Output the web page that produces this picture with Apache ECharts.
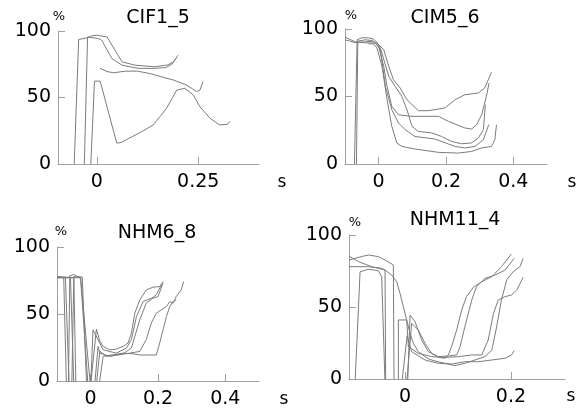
<!DOCTYPE html>
<html>
<head>
<meta charset="utf-8">
<script src="https://cdn.jsdelivr.net/npm/echarts@6/dist/echarts.min.js"></script>
<style>html,body{margin:0;padding:0;background:#fff}#c{width:584px;height:411px}</style>
</head>
<body>
<div id="c"></div>
<script>
// ---- Panel titles and tick labels ----
var panelTitles = ['CIF1_5', 'CIM5_6', 'NHM6_8', 'NHM11_4'];
var yTicks = [0, 50, 100];
var xTicksP1 = [0, 0.25];
var xTicksP2 = [0, 0.2, 0.4];
var xTicksP3 = [0, 0.2, 0.4];
var xTicksP4 = [0, 0.2];

// ---- Panel 1: CIF1_5  [time s, %] ----
var cif1 = [[-0.056,0],[-0.045,93.6],[-0.023,95],[-0.014,96.3],[0,96.8],[0.025,95.5],[0.062,76.8],[0.094,74.3],[0.143,73.1],[0.175,74.5],[0.19,77],[0.2,81.8]];
var cif2 = [[-0.031,0],[-0.023,95.5],[0.004,94.3],[0.012,93],[0.037,79.3],[0.062,74.3],[0.102,71.9],[0.143,71.9],[0.17,72.5],[0.185,75],[0.195,79.3]];
var cif3 = [[0.008,71.9],[0.025,69.5],[0.041,68.6],[0.07,69.8],[0.1,69.8],[0.131,68],[0.16,65.5],[0.189,63.1],[0.221,59.4],[0.246,54.5],[0.254,55.5],[0.262,61.8]];
var cif4 = [[-0.015,0],[-0.006,62.3],[0.008,62.3],[0.049,15.7],[0.06,16.2],[0.074,18.5],[0.107,23.7],[0.139,29.4],[0.172,41.9],[0.197,55.6],[0.217,56.9],[0.238,51.9],[0.254,43.1],[0.279,34.4],[0.303,29.4],[0.322,29.8],[0.328,32]];

// ---- Panel 2: CIM5_6 ----
var cim1 = [[-0.1,94],[-0.07,90.5],[-0.04,89.8],[-0.02,89.6],[-0.005,89.6],[0.015,84.7],[0.03,72.3],[0.044,62.4],[0.064,56.3],[0.084,47.6],[0.118,39.5],[0.148,39.5],[0.197,41.5],[0.227,47.6],[0.256,51.3],[0.296,52.6],[0.315,56.3],[0.335,67.9]];
var cim2 = [[-0.1,92],[-0.07,90],[-0.04,90.5],[-0.015,91],[0,87.1],[0.015,72.3],[0.025,57.5],[0.039,42.7],[0.059,36.5],[0.099,35.3],[0.178,35.3],[0.207,31.6],[0.256,26.7],[0.276,25.9],[0.291,29.1],[0.306,36.5],[0.32,50.1],[0.328,60]];
var cim3 = [[-0.072,0],[-0.064,92],[-0.05,93.5],[-0.03,93.5],[-0.015,92.5],[-0.005,90],[0.005,85.9],[0.03,64.9],[0.049,57.5],[0.069,50.1],[0.084,40.2],[0.099,27.9],[0.118,24.1],[0.158,23],[0.187,20.4],[0.217,16.7],[0.246,15],[0.276,15.6],[0.296,19.3],[0.311,25.4],[0.315,37.8],[0.317,43.9]];
var cim4 = [[-0.066,0],[-0.062,91],[-0.04,92],[-0.02,91.5],[-0.008,89],[0.005,84.7],[0.02,57.5],[0.039,40.2],[0.059,30.4],[0.079,25.4],[0.108,20.4],[0.167,18.5],[0.227,13],[0.256,11.9],[0.286,13],[0.311,18],[0.327,29.1]];
var cim5 = [[-0.03,89],[-0.015,89],[-0.005,85.9],[0.01,72.3],[0.025,47.6],[0.039,27.9],[0.054,15.6],[0.069,13],[0.108,11.1],[0.178,8.6],[0.237,8.1],[0.276,9.3],[0.306,11.9],[0.335,13],[0.345,18],[0.35,29.1]];

// ---- Panel 3: NHM6_8 ----
var nhm6a = [[-0.1,77.5],[-0.08,77],[-0.072,-3],[-0.066,-3],[-0.062,78.5],[-0.05,79.5],[-0.04,78],[-0.025,77.5],[-0.012,-3],[0,-3],[0.017,38.7],[0.027,30],[0.037,25.8],[0.057,23.3],[0.076,23.8],[0.096,25.8],[0.111,28.3],[0.121,35.7],[0.131,50.6],[0.146,60.5],[0.165,68],[0.185,70],[0.205,70.5],[0.215,74.2]];
var nhm6b = [[-0.1,78],[-0.075,77.5],[-0.064,-3],[-0.056,-3],[-0.05,78],[-0.03,77],[-0.008,-3],[0,-3],[0.007,38.2],[0.012,37],[0.037,23.3],[0.076,20.8],[0.106,24.6],[0.121,30.8],[0.136,48.1],[0.156,59.3],[0.181,61.8],[0.195,64.3],[0.21,71.7]];
var nhm6c = [[-0.1,77],[-0.05,77],[-0.044,-3],[0.012,-3],[0.022,25.8],[0.027,20.8],[0.057,18.4],[0.096,20.3],[0.121,24.6],[0.146,45.7],[0.165,58.1],[0.185,61.8],[0.2,63],[0.215,73]];
var nhm6d = [[-0.1,77.5],[-0.03,77],[-0.025,76],[-0.001,-3],[0.017,-3],[0.027,22.1],[0.047,18.4],[0.086,19.6],[0.116,20.8],[0.146,22.1],[0.165,30.8],[0.18,43.2],[0.195,50.6],[0.225,55.6],[0.235,59.3],[0.245,58.1],[0.254,63],[0.269,68],[0.276,74.2]];
var nhm6e = [[-0.1,77],[-0.06,77.5],[-0.05,-3],[0.025,-3],[0.037,18.4],[0.067,19.6],[0.096,20.8],[0.126,20.3],[0.146,19.4],[0.195,19.4],[0.205,28.3],[0.215,38.2],[0.225,48.1],[0.235,55.6],[0.245,59.3],[0.254,60.5]];

// ---- Panel 4: NHM11_4 ----
var nhm11a = [[-0.0943,-3],[-0.0848,74.5],[-0.0691,76.2],[-0.0503,75.2],[-0.044,71.1],[-0.0377,-3],[0.0032,-3],[0.0126,38.7],[0.0252,34],[0.0378,24.8],[0.0504,17.8],[0.063,15],[0.0755,14.4],[0.0818,16.7],[0.088,22.5],[0.0975,34],[0.107,47.9],[0.116,57.2],[0.129,63.7],[0.145,67.6],[0.164,71.1],[0.182,78],[0.201,86.8]];
var nhm11b = [[-0.1057,82.6],[-0.088,84.5],[-0.0691,86.1],[-0.0503,85],[-0.0377,82.6],[-0.022,79.2],[-0.0207,-3],[0.005,-3],[0.0095,44.4],[0.0189,39.8],[0.0315,27.1],[0.044,19],[0.063,15.5],[0.0818,16],[0.0975,16.7],[0.104,22.5],[0.113,36.3],[0.126,54.9],[0.135,64.1],[0.151,69.9],[0.17,72.2],[0.189,75.7],[0.206,83.8]];
var nhm11c = [[-0.1057,85.4],[-0.088,81.5],[-0.0628,78],[-0.0377,75.7],[-0.0251,72.2],[-0.0157,67.6],[-0.0094,59.5],[-0.0031,50.2],[0.0032,41],[0.0095,31.7],[0.0158,24.8],[0.025,19],[0.044,14],[0.0566,12.5],[0.0755,10.9],[0.094,9.3],[0.113,10.9],[0.132,13.2],[0.151,15.5],[0.164,20.1],[0.173,36.3],[0.182,54.9],[0.192,68.8],[0.204,74.5],[0.217,78],[0.223,83.8]];
var nhm11d = [[-0.1057,78],[-0.0691,78],[-0.044,76.9],[-0.0377,75.7],[-0.0364,-3],[-0.0125,-3],[-0.0125,41],[0.0032,41],[0.0064,22.5],[0.025,17.8],[0.0504,15.5],[0.0755,15],[0.1006,15.5],[0.126,16.7],[0.145,16.7],[0.157,27.1],[0.167,45.6],[0.176,54.9],[0.189,57.2],[0.201,58.3],[0.211,61.8],[0.223,70.6]];
var nhm11e = [[-0.006,-3],[0.004,30],[0.0126,19],[0.0378,13.2],[0.063,10.9],[0.088,10.4],[0.113,12],[0.138,12],[0.164,13.2],[0.189,14.4],[0.201,16.7],[0.206,19.7]];

var panelSeries = [
  [cif1, cif2, cif3, cif4],
  [cim1, cim2, cim3, cim4, cim5],
  [nhm6a, nhm6b, nhm6c, nhm6d, nhm6e],
  [nhm11a, nhm11b, nhm11c, nhm11d, nhm11e]
];
var xRanges = [[-0.096, 0.4], [-0.1, 0.5], [-0.1, 0.5], [-0.1057, 0.302]];
var xTicks = [xTicksP1, xTicksP2, xTicksP3, xTicksP4];

// ---- layout ----
var grids = [
  {left: 58, top: 31, width: 201, height: 133},
  {left: 345, top: 29, width: 202, height: 135},
  {left: 57, top: 247, width: 202, height: 134},
  {left: 349, top: 235, width: 216, height: 144}
];
var titlePos = [[158, 18], [445, 18], [157, 233], [455, 220]];
var pctPos = [[59, 17], [351, 16], [61, 232], [355, 223]];
var sPos = [[282, 183], [572, 183], [284, 400], [571, 397]];

var FONT = 'DejaVu Sans';
var AXIS = '#a0a0a0';
var LINE = '#7c7c7c';

var xAxes = [], yAxes = [], series = [], graphics = [];
for (var i = 0; i < 4; i++) {
  xAxes.push({
    gridIndex: i, type: 'value', min: xRanges[i][0], max: xRanges[i][1],
    axisLine: {show: true, onZero: false, lineStyle: {color: AXIS, width: 1}},
    axisTick: {show: true, inside: true, length: 7, lineStyle: {color: AXIS}, customValues: xTicks[i]},
    axisLabel: {show: true, customValues: xTicks[i], margin: 9, color: '#000', fontSize: 19, fontFamily: FONT},
    splitLine: {show: false}
  });
  yAxes.push({
    gridIndex: i, type: 'value', min: 0, max: 100, interval: 50,
    axisLine: {show: true, onZero: false, lineStyle: {color: AXIS, width: 1}},
    axisTick: {show: true, inside: true, length: 7, lineStyle: {color: AXIS}},
    axisLabel: {show: true, margin: 7, color: '#000', fontSize: 19, fontFamily: FONT},
    splitLine: {show: false}
  });
  panelSeries[i].forEach(function (d) {
    series.push({
      type: 'line', xAxisIndex: i, yAxisIndex: i, data: d,
      showSymbol: false, symbol: 'none', clip: true, silent: true,
      lineStyle: {color: LINE, width: 1}
    });
  });
  graphics.push({type: 'text', x: titlePos[i][0], y: titlePos[i][1],
    style: {text: panelTitles[i], font: '19px "' + FONT + '"', fill: '#000', align: 'center', verticalAlign: 'middle'}});
  graphics.push({type: 'text', x: pctPos[i][0], y: pctPos[i][1],
    style: {text: '%', font: '13px "' + FONT + '"', fill: '#000', align: 'center', verticalAlign: 'middle'}});
  graphics.push({type: 'text', x: sPos[i][0], y: sPos[i][1],
    style: {text: 's', font: '17px "' + FONT + '"', fill: '#000', align: 'center', verticalAlign: 'middle'}});
}

var chart = echarts.init(document.getElementById('c'), null, {renderer: 'canvas'});
chart.setOption({
  animation: false,
  backgroundColor: '#fff',
  grid: grids,
  xAxis: xAxes,
  yAxis: yAxes,
  series: series,
  graphic: graphics
});
</script>
</body>
</html>
